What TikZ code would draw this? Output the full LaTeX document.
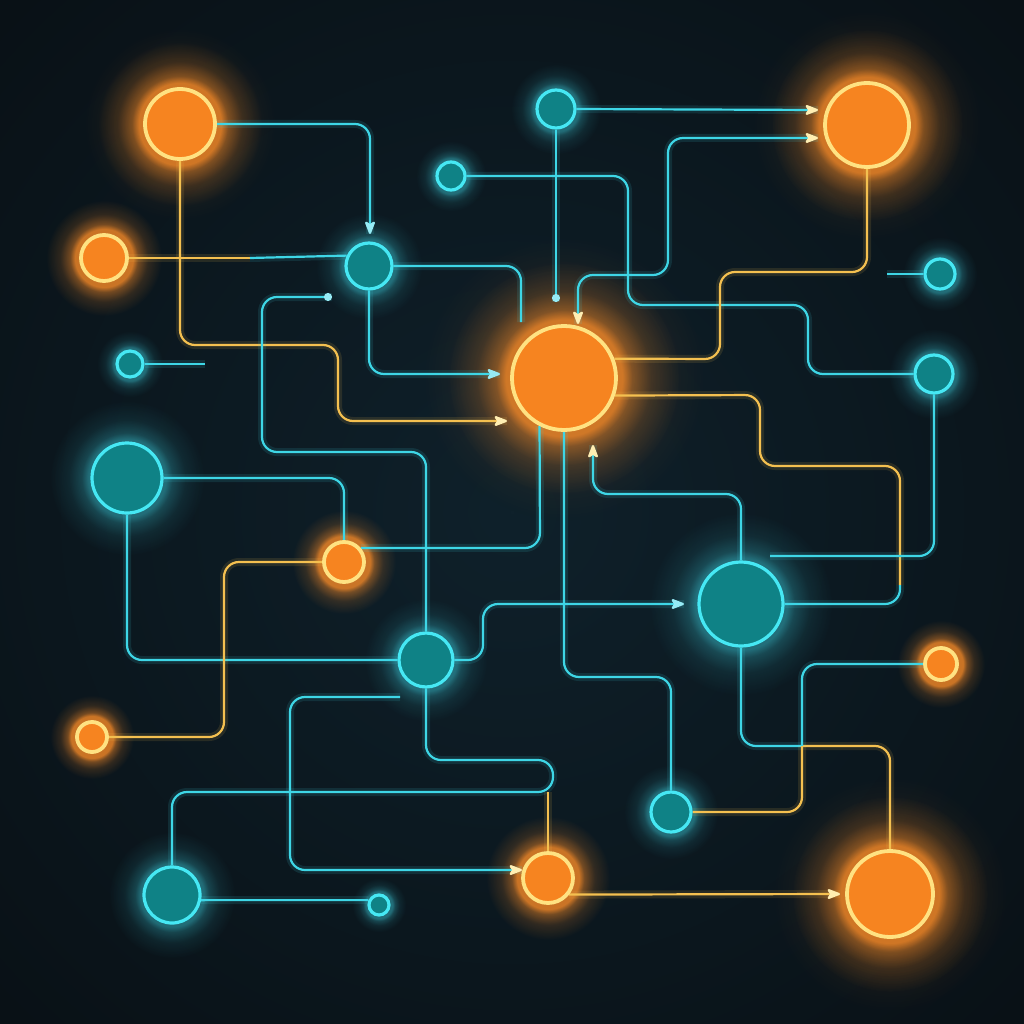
\documentclass[tikz,border=0pt]{standalone}
\usetikzlibrary{arrows.meta,fadings}
\definecolor{bgout}{RGB}{8,13,17}
\definecolor{bgin}{RGB}{15,33,43}
\definecolor{ofill}{RGB}{246,132,32}
\definecolor{orim}{RGB}{255,226,130}
\definecolor{oglow}{RGB}{250,140,40}
\definecolor{tfill}{RGB}{15,130,134}
\definecolor{trim}{RGB}{70,232,244}
\definecolor{cline}{RGB}{62,214,230}
\definecolor{yline}{RGB}{244,192,80}
\definecolor{ytipc}{RGB}{255,238,178}
\definecolor{ctipc}{RGB}{150,235,245}
\tikzfading[name=halo, inner color=transparent!0, outer color=transparent!100]
\pgfdeclareradialshading{glowshade}{\pgfpointorigin}{color(0bp)=(transparent!0); color(12bp)=(transparent!0); color(14bp)=(transparent!45); color(18bp)=(transparent!80); color(24bp)=(transparent!100); color(50bp)=(transparent!100)}
\pgfdeclarefading{glow}{\pgfuseshading{glowshade}}
\pgfdeclarelayer{back}
\pgfdeclarelayer{wires}
\pgfsetlayers{back,wires,main}
\begin{document}
\begin{tikzpicture}[x=1pt, y=-1pt,
    onode/.style={circle, inner sep=0pt, fill=ofill, draw=orim, line width=3.8pt},
    tnode/.style={circle, inner sep=0pt, fill=tfill, draw=trim, line width=3.2pt},
    cwire/.style={draw=cline, line width=2.2pt, rounded corners=15pt,
        preaction={draw=cline, line width=8pt, opacity=0.12, arrows=-}},
    ywire/.style={draw=yline, line width=2.2pt, rounded corners=15pt,
        preaction={draw=yline, line width=8pt, opacity=0.12, arrows=-}},
    carrow/.style={arrows={-Stealth[length=16pt, width=12pt, inset=4pt, round, color=ctipc]}},
    yarrow/.style={arrows={-Stealth[length=16pt, width=12pt, inset=4pt, round, color=ytipc]}},
    twotip/.style={arrows={Stealth[length=16pt, width=12pt, inset=4pt, round, color=ytipc]-Stealth[length=16pt, width=12pt, inset=4pt, round, color=ytipc]}},
    dotend/.style={arrows={-Circle[length=8pt, color=ctipc]}}]
  \useasboundingbox (0,0) rectangle (1024,1024);

  \node[onode, minimum size=70pt] (O1) at (180,124) {};
  \node[onode, minimum size=46pt] (O2) at (104,258) {};
  \node[onode, minimum size=84pt] (O3) at (867,125) {};
  \node[onode, minimum size=104pt] (Oc) at (564,378) {};
  \node[onode, minimum size=40pt] (O4) at (344,562) {};
  \node[onode, minimum size=30pt] (O5) at (92,737) {};
  \node[onode, minimum size=32pt] (O6) at (941,664) {};
  \node[onode, minimum size=50pt] (O7) at (548,878) {};
  \node[onode, minimum size=86pt] (O8) at (890,894) {};
  \node[tnode, minimum size=38pt] (T1) at (556,109) {};
  \node[tnode, minimum size=28pt] (T2) at (451,176) {};
  \node[tnode, minimum size=46pt] (T3) at (369,266) {};
  \node[tnode, minimum size=26pt] (T4) at (130,364) {};
  \node[tnode, minimum size=30pt] (T5) at (940,274) {};
  \node[tnode, minimum size=38pt] (T6) at (934,374) {};
  \node[tnode, minimum size=70pt] (T7) at (127,478) {};
  \node[tnode, minimum size=84pt] (T8) at (741,604) {};
  \node[tnode, minimum size=54pt] (T9) at (426,660) {};
  \node[tnode, minimum size=40pt] (T10) at (671,812) {};
  \node[tnode, minimum size=56pt] (T11) at (172,895) {};
  \node[tnode, minimum size=20pt] (T12) at (379,905) {};

  \coordinate (e1) at (370,234);
  \coordinate (m2) at (250,258);
  \coordinate (e3) at (507,421);
  \coordinate (e4) at (521,322);
  \coordinate (e5) at (500,374);
  \coordinate (e6) at (332,297);
  \coordinate (e7) at (205,364);
  \coordinate (e8) at (556,302);
  \coordinate (e9) at (818,110);
  \coordinate (e10a) at (578,324);
  \coordinate (e10b) at (818,138);
  \coordinate (e13) at (887,274);
  \coordinate (m14) at (900,585);
  \coordinate (e15) at (593,445);
  \coordinate (e16) at (684,604);
  \coordinate (e23) at (548,792);
  \coordinate (e24a) at (400,697);
  \coordinate (e24b) at (522,870);
  \coordinate (m26) at (802,746);
  \coordinate (e28) at (770,556);
  \coordinate (e29) at (840,894);

  \begin{pgfonlayer}{back}
    \fill[bgout] (0,0) rectangle (1024,1024);
    \fill[bgin, path fading=halo] (512,512) circle (900);
    \foreach \n/\r in {O1/36, O2/24, O3/43, Oc/53, O4/21, O5/16, O6/17, O7/26, O8/44}
      \fill[oglow, opacity=0.8, path fading=glow] (\n) circle ({2.1*\r+10});
    \foreach \n/\r in {O1/36, O3/43, Oc/53, O8/44}
      \fill[oglow, opacity=0.18, path fading=halo] (\n) circle ({2.7*\r});
    \foreach \n/\r in {T1/20, T2/15, T3/24, T4/14, T5/16, T6/20, T7/36, T8/43, T9/28, T10/21, T11/29, T12/11}
      \fill[cline, opacity=0.45, path fading=glow] (\n) circle ({2.1*\r+5});
  \end{pgfonlayer}

  \begin{pgfonlayer}{wires}
    \draw[cwire, carrow] (O1.east) -- (370,124) -- (e1);
    \draw[ywire] (O2.east) -- (m2);
    \draw[cwire] (m2) -- (T3.155);
    \draw[ywire, yarrow] (O1.south) -- (180,345) -- (338,345) -- (338,421) -- (e3);
    \draw[cwire] (T3.east) -- (521,266) -- (e4);
    \draw[cwire, carrow] (T3.south) -- (369,374) -- (e5);
    \draw[cwire, dotend] (T9.north) -- (426,452) -- (262,452) -- (262,297) -- (e6);
    \draw[cwire] (T4.east) -- (e7);
    \draw[cwire, dotend] (T1.south) -- (e8);
    \draw[cwire, yarrow] (T1.east) -- (e9);
    \draw[cwire, twotip] (e10a) -- (578,275) -- (668,275) -- (668,138) -- (e10b);
    \draw[cwire] (T2.east) -- (628,176) -- (628,305) -- (808,305) -- (808,374) -- (T6.west);
    \draw[ywire] (Oc.21) -- (720,359) -- (720,272) -- (867,272) -- (O3.south);
    \draw[cwire] (e13) -- (T5.west);
    \draw[ywire] (Oc.-19) -- (760,395) -- (760,466) -- (900,466) -- (m14);
    \draw[cwire] (m14) -- (900,604) -- (T8.east);
    \draw[cwire, yarrow] (T8.north) -- (741,494) -- (593,494) -- (e15);
    \draw[cwire, carrow] (T9.east) -- (483,660) -- (483,604) -- (e16);
    \draw[cwire] (Oc.south) -- (564,677) -- (671,677) -- (T10.north);
    \draw[cwire] (O4.40) -- (540,548) -- (Oc.-117);
    \draw[cwire] (T7.east) -- (344,478) -- (O4.north);
    \draw[cwire] (T7.south) -- (127,660) -- (T9.west);
    \draw[ywire] (O5.east) -- (224,737) -- (224,562) -- (O4.west);
    \draw[cwire] (T9.south) -- (426,760) -- (553,760) -- (553,792) -- (172,792) -- (T11.north);
    \draw[ywire] (O7.north) -- (e23);
    \draw[cwire, yarrow] (e24a) -- (290,697) -- (290,870) -- (e24b);
    \draw[cwire] (T11.-10) -- (T12.155);
    \draw[cwire] (T8.south) -- (741,746) -- (m26);
    \draw[ywire] (m26) -- (890,746) -- (O8.north);
    \draw[cwire] (O6.west) -- (802,664) -- (m26);
    \draw[ywire] (m26) -- (802,812) -- (T10.east);
    \draw[cwire] (T6.south) -- (934,556) -- (e28);
    \draw[ywire, yarrow] (O7.-38) -- (e29);
  \end{pgfonlayer}
\end{tikzpicture}
\end{document}
